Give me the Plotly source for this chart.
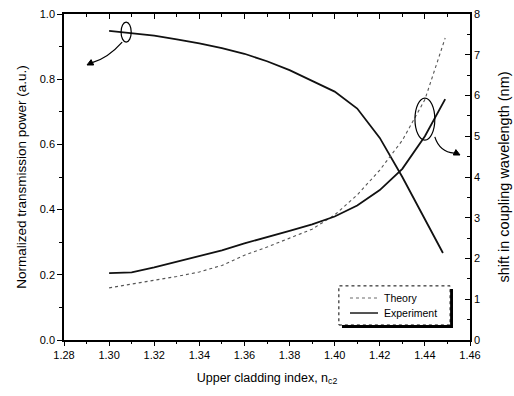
import plotly.graph_objects as go

# Data
idx_trans = [1.30, 1.31, 1.32, 1.33, 1.34, 1.35, 1.36, 1.37, 1.38, 1.39, 1.40, 1.41, 1.42, 1.43, 1.44, 1.448]
trans_power = [0.948, 0.942, 0.934, 0.922, 0.91, 0.895, 0.878, 0.855, 0.828, 0.795, 0.762, 0.71, 0.62, 0.50, 0.37, 0.267]

idx_shift = [1.30, 1.31, 1.32, 1.33, 1.34, 1.35, 1.36, 1.37, 1.38, 1.39, 1.40, 1.41, 1.42, 1.43, 1.44, 1.449]
theory_shift = [1.28, 1.37, 1.46, 1.56, 1.67, 1.83, 2.08, 2.28, 2.50, 2.72, 3.07, 3.56, 4.17, 4.90, 5.90, 7.41]
exp_shift = [1.64, 1.66, 1.78, 1.92, 2.05, 2.20, 2.37, 2.52, 2.68, 2.84, 3.03, 3.30, 3.68, 4.20, 5.00, 5.91]

series_names = ["Theory", "Experiment"]

x_ticks = [1.28, 1.30, 1.32, 1.34, 1.36, 1.38, 1.40, 1.42, 1.44, 1.46]
x_tick_labels = ["1.28", "1.30", "1.32", "1.34", "1.36", "1.38", "1.40", "1.42", "1.44", "1.46"]
y_ticks = [0.0, 0.2, 0.4, 0.6, 0.8, 1.0]
y_tick_labels = ["0.0", "0.2", "0.4", "0.6", "0.8", "1.0"]
y2_ticks = [0, 1, 2, 3, 4, 5, 6, 7, 8]

FONT = "Liberation Sans, Arial, sans-serif"
theory_line = dict(color="#555", width=1.1, dash="dot")
exp_line = dict(color="#111", width=1.8)

fig = go.Figure()
fig.add_trace(go.Scatter(x=idx_trans, y=trans_power, mode="lines", showlegend=False,
                         line=dict(color="#111", width=1.8)))
fig.add_trace(go.Scatter(x=idx_shift, y=theory_shift, mode="lines", name=series_names[0], yaxis="y2",
                         showlegend=False, line=theory_line))
fig.add_trace(go.Scatter(x=idx_shift, y=exp_shift, mode="lines", name=series_names[1], yaxis="y2",
                         showlegend=False, line=exp_line))
# invisible trace for top axis ticks
fig.add_trace(go.Scatter(x=[1.28, 1.46], y=[0, 0], xaxis="x2", mode="lines", showlegend=False,
                         line=dict(width=0), hoverinfo="skip"))

axis_common = dict(showgrid=False, zeroline=False, linecolor="black", linewidth=1.5,
                   tickcolor="black", tickfont=dict(family=FONT, size=11, color="black"))

fig.update_layout(
    width=514, height=396,
    margin=dict(l=64, r=44, t=14, b=56),
    paper_bgcolor="white", plot_bgcolor="white",
    font=dict(family=FONT, color="black"),
    showlegend=False,
    xaxis=dict(range=[1.28, 1.46], tickvals=x_ticks, ticktext=x_tick_labels, ticks="outside",
               ticklen=4, minor=dict(ticks="outside", ticklen=2, dtick=0.01, tickcolor="black"),
               title=dict(text="Upper cladding index, n<sub>c2</sub>", font=dict(family=FONT, size=12.5), standoff=13),
               automargin=False, **axis_common),
    xaxis2=dict(range=[1.28, 1.46], overlaying="x", side="top", tickvals=x_ticks, showticklabels=False,
                ticks="inside", ticklen=5, minor=dict(ticks="inside", ticklen=3, dtick=0.01, tickcolor="black"),
                **axis_common),
    yaxis=dict(range=[0, 1.0], tickvals=y_ticks, ticktext=y_tick_labels, ticks="outside", ticklen=5,
               minor=dict(ticks="outside", ticklen=3, dtick=0.1, tickcolor="black"),
               title=dict(text="Normalized transmission power (a.u.)", font=dict(family=FONT, size=13.5), standoff=10),
               automargin=False, **axis_common),
    yaxis2=dict(range=[0, 8], overlaying="y", side="right", tickvals=y2_ticks, ticks="inside", ticklen=5,
                minor=dict(ticks="inside", ticklen=3, dtick=0.5, tickcolor="black"),
                title=dict(text="shift in coupling wavelength (nm)", font=dict(family=FONT, size=14.5), standoff=20),
                automargin=False, **axis_common),
)

# ellipses marking the curves
fig.add_shape(type="circle", xref="x", yref="y", x0=1.3053, x1=1.3098, y0=0.914, y1=0.975,
              line=dict(color="black", width=1.2))
fig.add_shape(type="circle", xref="x", yref="y", x0=1.4356, x1=1.4444, y0=0.613, y1=0.742,
              line=dict(color="black", width=1.2))
# curved arrows with triangular heads
fig.add_shape(type="path", xref="x", yref="y", path="M 1.3058,0.914 Q 1.2995,0.865 1.2925,0.851",
              line=dict(color="black", width=1.2))
fig.add_shape(type="path", xref="x", yref="y", path="M 1.2902,0.8436 L 1.29317,0.8436 L 1.29201,0.860 Z",
              line=dict(color="black", width=1), fillcolor="black")
fig.add_shape(type="path", xref="x", yref="y", path="M 1.4444,0.623 Q 1.4465,0.577 1.4530,0.573",
              line=dict(color="black", width=1.2))
fig.add_shape(type="path", xref="x", yref="y", path="M 1.45556,0.5675 L 1.45259,0.5675 L 1.45374,0.584 Z",
              line=dict(color="black", width=1), fillcolor="black")

# hand-drawn legend box with shadow (paper coordinates)
fig.add_shape(type="rect", xref="paper", yref="paper", x0=0.6847, x1=0.9581, y0=0.0368, y1=0.1564,
              line=dict(width=0), fillcolor="black")
fig.add_shape(type="rect", xref="paper", yref="paper", x0=0.677, x1=0.951, y0=0.046, y1=0.166,
              line=dict(color="black", width=1, dash="dot"), fillcolor="white")
for name, yy, ln in [(series_names[0], 0.1288, theory_line), (series_names[1], 0.0828, exp_line)]:
    fig.add_shape(type="line", xref="paper", yref="paper", x0=0.7044, x1=0.7734, y0=yy, y1=yy,
                  line=dict(color=ln["color"], width=ln["width"] * 0.8, dash=ln.get("dash", "solid")))
    fig.add_annotation(xref="paper", yref="paper", x=0.7833, y=yy, text=name, showarrow=False,
                       xanchor="left", yanchor="middle", font=dict(family=FONT, size=10.5, color="black"))

fig.write_html("out.html", post_script="document.body.style.margin='0';",
               config={"displayModeBar": False})
